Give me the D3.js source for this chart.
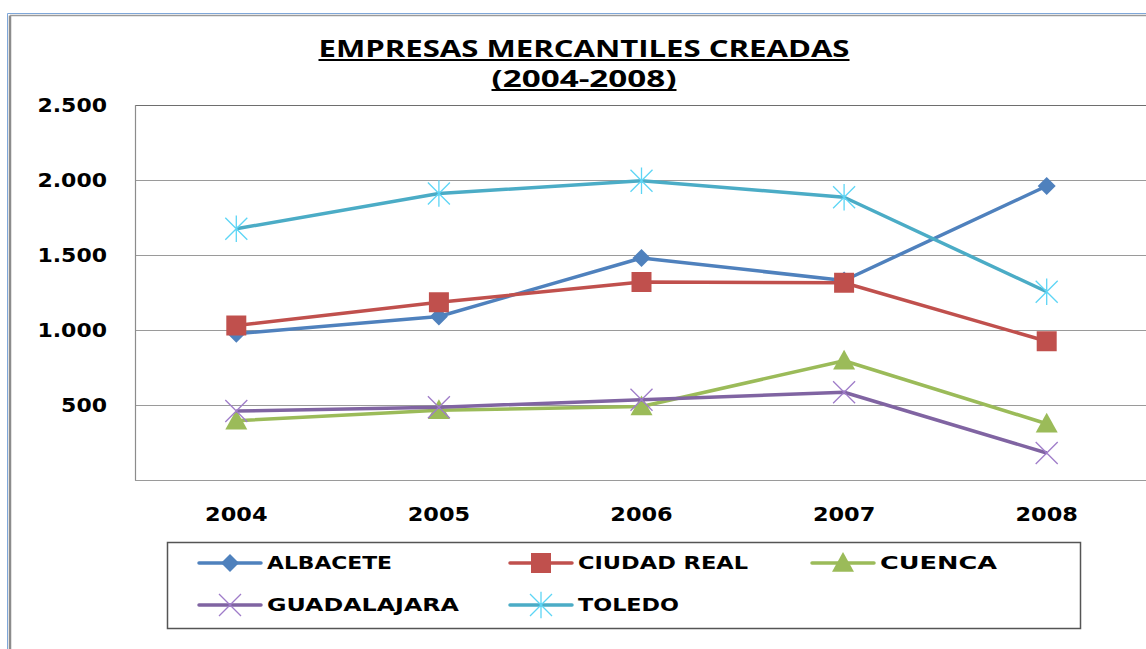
<!DOCTYPE html>
<html>
<head>
<meta charset="utf-8">
<script src="https://cdn.jsdelivr.net/npm/d3@7"></script>
<style>
  body { margin: 0; background: #fff; }
  svg { display: block; }
</style>
</head>
<body>
<svg width="1146" height="649"></svg>
<script>
// data
const years = ["2004", "2005", "2006", "2007", "2008"];
const albacete = [975, 1090, 1480, 1330, 1960];
const ciudadReal = [1030, 1185, 1320, 1315, 925];
const cuenca = [395, 465, 490, 795, 375];
const guadalajara = [460, 485, 535, 585, 180];
const toledo = [1675, 1910, 1995, 1885, 1255];
const yTicks = [500, 1000, 1500, 2000, 2500];

const series = [
  { name: "ALBACETE", values: albacete, color: "#4F81BD", marker: "diamond" },
  { name: "CIUDAD REAL", values: ciudadReal, color: "#C0504D", marker: "square" },
  { name: "CUENCA", values: cuenca, color: "#9BBB59", marker: "triangle" },
  { name: "GUADALAJARA", values: guadalajara, color: "#8064A2", marker: "x" },
  { name: "TOLEDO", values: toledo, color: "#4BACC6", marker: "star" }
];

window.onload = () => {
  const svg = d3.select("svg");
  const fmt = d3.formatLocale({ decimal: ",", thousands: ".", grouping: [3] }).format(",d");

  // the original picture is stretched sideways, so stretch text too
  const stretch = (sel, k) => sel.each(function () {
    const w = this.getComputedTextLength();
    d3.select(this).attr("textLength", w * k).attr("lengthAdjust", "spacingAndGlyphs");
  });

  // outer chart frame
  svg.append("line").attr("x1", 7.5).attr("y1", 13.5).attr("x2", 7.5).attr("y2", 649)
    .attr("stroke", "#7FA7D9").attr("stroke-width", 1);
  svg.append("line").attr("x1", 7.5).attr("y1", 13.5).attr("x2", 1146).attr("y2", 13.5)
    .attr("stroke", "#7FA7D9").attr("stroke-width", 1);
  svg.append("line").attr("x1", 10).attr("y1", 15.5).attr("x2", 10).attr("y2", 649)
    .attr("stroke", "#8c8c8c").attr("stroke-width", 2.5);
  svg.append("line").attr("x1", 10).attr("y1", 15.5).attr("x2", 1146).attr("y2", 15.5)
    .attr("stroke", "#9a9a9a").attr("stroke-width", 1.5);

  const left = 135, right = 1148, top = 105, bottom = 480;

  const x = d3.scaleBand().domain(years).range([left, right]);
  const y = d3.scaleLinear().domain([0, 2500]).range([bottom, top]);

  // gridlines
  svg.append("g")
    .selectAll("line")
    .data(yTicks)
    .join("line")
    .attr("x1", left).attr("x2", right)
    .attr("y1", d => Math.round(y(d)) + 0.5).attr("y2", d => Math.round(y(d)) + 0.5)
    .attr("stroke", d => d === 2500 ? "#6e6e6e" : "#9a9a9a").attr("stroke-width", 1.2);

  // plot area left and bottom edges
  svg.append("line").attr("x1", left + 0.5).attr("x2", left + 0.5).attr("y1", top).attr("y2", bottom + 0.5)
    .attr("stroke", "#8c8c8c").attr("stroke-width", 1.2);
  svg.append("line").attr("x1", left).attr("x2", right).attr("y1", bottom + 0.5).attr("y2", bottom + 0.5)
    .attr("stroke", "#9a9a9a").attr("stroke-width", 1.2);

  // y axis labels
  const yAxis = svg.append("g")
    .attr("transform", `translate(${left},0)`)
    .call(d3.axisLeft(y).tickValues(yTicks).tickSize(0).tickPadding(28).tickFormat(fmt));
  yAxis.select(".domain").remove();
  yAxis.selectAll("text")
    .attr("font-family", "DejaVu Sans, Verdana, sans-serif")
    .attr("font-weight", "bold").attr("font-size", 20).attr("fill", "#000")
    .call(stretch, 1.1);

  // x axis labels
  const xAxis = svg.append("g")
    .attr("transform", `translate(0,${bottom})`)
    .call(d3.axisBottom(x).tickSize(0).tickPadding(28));
  xAxis.select(".domain").remove();
  xAxis.selectAll("text")
    .attr("font-family", "DejaVu Sans, Verdana, sans-serif")
    .attr("font-weight", "bold").attr("font-size", 19).attr("fill", "#000")
    .call(stretch, 1.18);

  // title, underlines drawn by hand so they follow the stretched text
  const titleLines = [
    { text: "EMPRESAS MERCANTILES CREADAS", y: 57, w: 531 },
    { text: "(2004-2008)", y: 87, w: 185 }
  ];
  titleLines.forEach(t => {
    svg.append("text")
      .attr("x", 584).attr("y", t.y).attr("text-anchor", "middle")
      .attr("font-family", "Open Sans, sans-serif").attr("font-weight", "bold")
      .attr("font-size", 24).attr("fill", "#000")
      .attr("textLength", t.w).attr("lengthAdjust", "spacingAndGlyphs")
      .text(t.text);
    svg.append("line")
      .attr("x1", 584 - t.w / 2).attr("x2", 584 + t.w / 2)
      .attr("y1", t.y + 3).attr("y2", t.y + 3)
      .attr("stroke", "#000").attr("stroke-width", 2);
  });

  const markerPath = (type, s) => {
    if (type === "diamond") return `M0,${-s}L${s},0L0,${s}L${-s},0Z`;
    if (type === "square") return `M${-s},${-s}H${s}V${s}H${-s}Z`;
    if (type === "triangle") return `M0,${-s}L${s},${s * 0.8}L${-s},${s * 0.8}Z`;
    if (type === "x") return `M${-s},${-s}L${s},${s}M${s},${-s}L${-s},${s}`;
    return `M${-s},${-s}L${s},${s}M${s},${-s}L${-s},${s}M0,${-s * 1.2}V${s * 1.2}`;
  };
  const markerSize = { diamond: 9, square: 10, triangle: 11, x: 11, star: 11 };

  const drawMarker = (g, type, color, cx, cy) => {
    const p = g.append("path")
      .attr("transform", `translate(${cx},${cy})`)
      .attr("d", markerPath(type, markerSize[type]));
    if (type === "x" || type === "star") {
      p.attr("fill", "none").attr("stroke", d3.color(color).brighter(0.6)).attr("stroke-width", 1.3);
    } else {
      p.attr("fill", color).attr("stroke", "none");
    }
  };

  const line = d3.line()
    .x((d, i) => x(years[i]) + x.bandwidth() / 2)
    .y(d => y(d));

  series.forEach(s => {
    const g = svg.append("g");
    g.append("path")
      .attr("d", line(s.values))
      .attr("fill", "none").attr("stroke", s.color).attr("stroke-width", 3.5)
      .attr("stroke-linejoin", "round");
    s.values.forEach((v, i) => drawMarker(g, s.marker, s.color, x(years[i]) + x.bandwidth() / 2, y(v)));
  });

  // legend
  const lg = svg.append("g");
  lg.append("rect").attr("x", 167.5).attr("y", 542.5).attr("width", 913).attr("height", 86)
    .attr("fill", "#fff").attr("stroke", "#555").attr("stroke-width", 1.5);
  const cols = [199, 510, 812];
  const rows = [563, 605];
  const legendWidths = [125, 170, 117, 192, 101];
  series.forEach((s, i) => {
    const cx = cols[i % 3], cy = rows[Math.floor(i / 3)];
    const item = lg.append("g");
    item.append("line").attr("x1", cx).attr("x2", cx + 62).attr("y1", cy).attr("y2", cy)
      .attr("stroke", s.color).attr("stroke-width", 3.5).attr("stroke-linecap", "round");
    drawMarker(item, s.marker, s.color, cx + 31, cy);
    item.append("text")
      .attr("x", cx + 68).attr("y", cy).attr("dy", "0.36em")
      .attr("font-family", "DejaVu Sans, Verdana, sans-serif")
      .attr("font-weight", "bold").attr("font-size", 18).attr("fill", "#000")
      .attr("textLength", legendWidths[i]).attr("lengthAdjust", "spacingAndGlyphs")
      .text(s.name);
  });
};
</script>
</body>
</html>
